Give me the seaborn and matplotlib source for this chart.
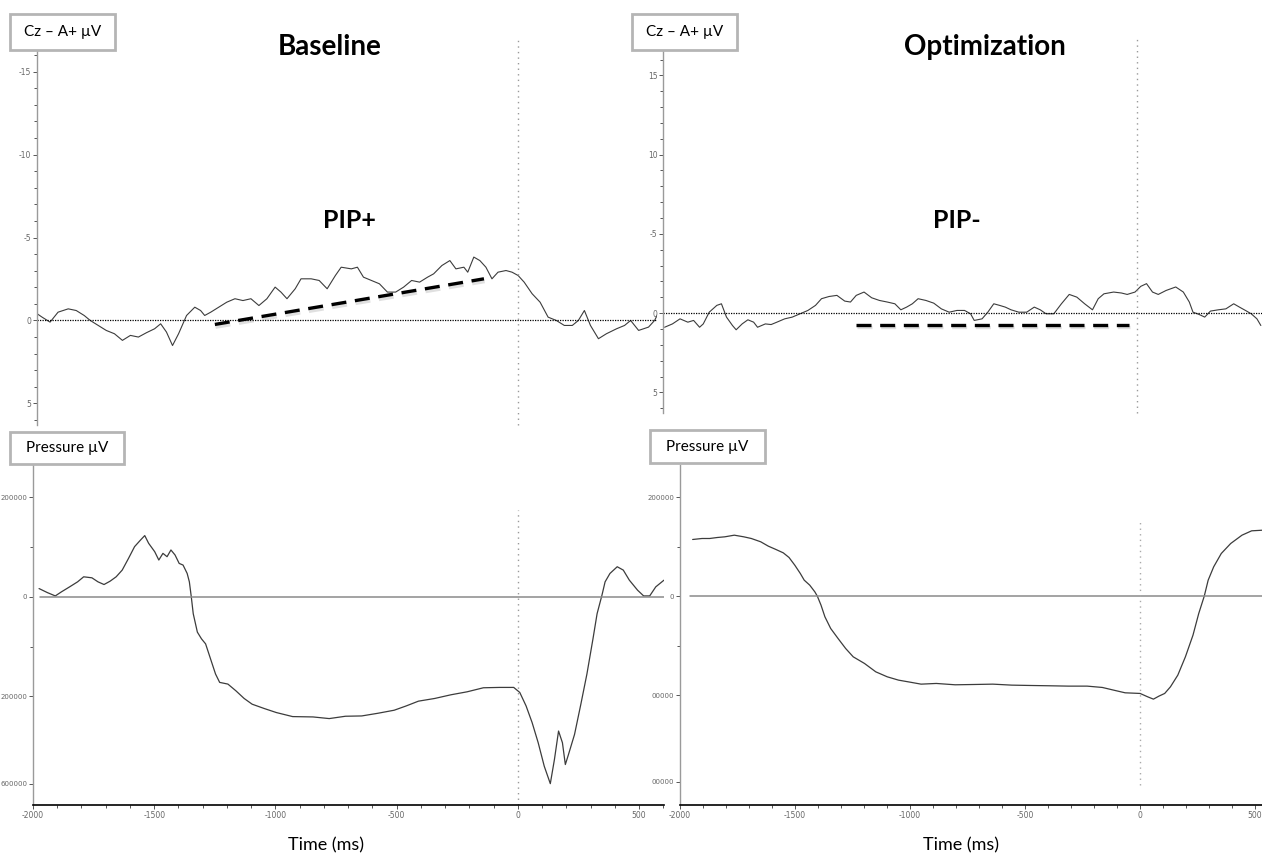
import numpy as np
import pandas as pd
import matplotlib
matplotlib.use("Agg")
import matplotlib.pyplot as plt
import matplotlib.patheffects as pe
from matplotlib.patches import Rectangle
from matplotlib.ticker import MultipleLocator, FixedLocator
import seaborn as sns

# ---------------- data ----------------
# EEG Cz - A+ (uV), baseline (PIP+)
eeg_base_t = [-1987, -1967, -1934, -1901, -1859, -1826, -1793, -1768, -1735, -1702,
              -1668, -1635, -1602, -1569, -1536, -1502, -1477, -1453, -1428, -1403,
              -1370, -1336, -1312, -1295, -1270, -1237, -1204, -1170, -1137, -1104,
              -1071, -1038, -1004, -980, -955, -921, -897, -855, -822, -789,
              -755, -731, -689, -664, -639, -606, -573, -540, -506, -473,
              -440, -407, -374, -349, -315, -282, -257, -224, -208, -183,
              -158, -133, -108, -83, -50, -25, 0, 25, 58, 91,
              124, 158, 191, 224, 249, 274, 299, 332, 365, 407,
              440, 465, 498, 539, 564, 581]
eeg_base_v = [-0.40, -0.20, 0.10, -0.50, -0.70, -0.60, -0.30, 0.00, 0.30, 0.60,
              0.80, 1.20, 0.90, 1.00, 0.74, 0.50, 0.20, 0.70, 1.51, 0.80,
              -0.30, -0.80, -0.60, -0.30, -0.50, -0.80, -1.10, -1.31, -1.20, -1.31,
              -0.90, -1.31, -2.01, -1.71, -1.31, -1.91, -2.51, -2.51, -2.41, -1.91,
              -2.71, -3.21, -3.11, -3.21, -2.61, -2.41, -2.21, -1.71, -1.71, -2.01,
              -2.41, -2.31, -2.61, -2.81, -3.31, -3.61, -3.11, -3.21, -2.91, -3.82,
              -3.61, -3.21, -2.51, -2.91, -3.01, -2.91, -2.71, -2.31, -1.61, -1.10,
              -0.20, 0.00, 0.30, 0.30, 0.00, -0.60, 0.30, 1.10, 0.80, 0.50,
              0.30, 0.00, 0.60, 0.40, 0.00, -0.50]

# EEG Cz - A+ (uV), optimization (PIP-)
eeg_opt_t = [-2054, -2020, -1987, -1953, -1928, -1902, -1886, -1860, -1827, -1807,
             -1785, -1759, -1743, -1717, -1692, -1667, -1650, -1616, -1591, -1566,
             -1532, -1499, -1465, -1431, -1398, -1372, -1339, -1305, -1271, -1246,
             -1221, -1187, -1154, -1120, -1086, -1053, -1027, -1002, -977, -952,
             -918, -884, -851, -817, -783, -750, -724, -708, -674, -649,
             -623, -598, -573, -548, -514, -480, -447, -421, -396, -362,
             -329, -295, -262, -228, -194, -169, -144, -102, -68, -43,
             -9, 16, 41, 67, 92, 126, 168, 201, 227, 243,
             269, 294, 319, 353, 386, 420, 445, 471, 496, 521, 538]
eeg_opt_v = [0.89, 0.68, 0.36, 0.57, 0.46, 0.89, 0.68, -0.06, -0.49, -0.59,
             0.25, 0.78, 1.05, 0.68, 0.42, 0.57, 0.89, 0.68, 0.72, 0.57,
             0.36, 0.25, 0.04, -0.17, -0.49, -0.91, -1.05, -1.12, -0.76, -0.70,
             -1.12, -1.33, -0.97, -0.80, -0.70, -0.59, -0.21, -0.38, -0.59, -0.91,
             -0.80, -0.63, -0.27, -0.06, -0.17, -0.17, 0.04, 0.46, 0.36, -0.06,
             -0.59, -0.49, -0.38, -0.21, -0.06, -0.06, -0.38, -0.21, 0.04, 0.04,
             -0.59, -1.18, -1.01, -0.59, -0.21, -0.91, -1.22, -1.33, -1.27, -1.18,
             -1.33, -1.69, -1.86, -1.33, -1.18, -1.43, -1.65, -1.33, -0.70, -0.06,
             0.08, 0.25, -0.13, -0.21, -0.27, -0.59, -0.38, -0.17, 0.04, 0.36, 0.78]

# trend (dashed) lines
trend_base_t = [-1253, -141]
trend_base_v = [0.24, -2.51]
trend_opt_t = [-1221, -34]
trend_opt_v = [0.72, 0.72]

# Pressure, baseline
pres_base_t = [-1975, -1941, -1908, -1883, -1849, -1816, -1791, -1757, -1732, -1707,
               -1682, -1657, -1632, -1606, -1581, -1556, -1539, -1523, -1498, -1481,
               -1464, -1447, -1431, -1414, -1397, -1381, -1364, -1355, -1347, -1339,
               -1322, -1305, -1288, -1263, -1247, -1230, -1196, -1163, -1129, -1096,
               -1046, -996, -929, -845, -778, -711, -644, -577, -510, -460,
               -410, -343, -276, -209, -142, -75, -17, 8, 34, 59,
               84, 109, 134, 151, 168, 184, 196, 209, 234, 260,
               285, 310, 327, 347, 360, 380, 410, 435, 460, 494,
               519, 544, 569, 603]
pres_base_v = [16800, 8750, 2000, 10100, 20200, 30300, 40400, 38400, 30300, 24900,
               31600, 40400, 53900, 77400, 101000, 114500, 123200, 107700, 90900, 74100,
               87500, 80800, 94300, 84200, 67300, 64000, 47100, 30300, 0, -33700,
               -70700, -84200, -94300, -131300, -154900, -171700, -175100, -188600, -204000, -215500,
               -224200, -232300, -240400, -241100, -244400, -239700, -239100, -233700, -227600, -218900,
               -209400, -204000, -196600, -190600, -182500, -181800, -181800, -191900, -218900, -252500,
               -292900, -340100, -375100, -326600, -269400, -292900, -336700, -316500, -276100, -215500,
               -154900, -84200, -33700, 3400, 30300, 47100, 60600, 53900, 33700, 13500,
               2000, 2000, 20200, 33700]

# Pressure, optimization
pres_opt_t = [-1945, -1904, -1871, -1838, -1805, -1764, -1723, -1690, -1649, -1616,
              -1583, -1551, -1526, -1501, -1477, -1460, -1436, -1414, -1403, -1387,
              -1370, -1345, -1313, -1280, -1247, -1198, -1149, -1099, -1050, -1001,
              -952, -886, -804, -722, -640, -558, -476, -394, -312, -230,
              -164, -115, -65, 0, 33, 58, 82, 107, 132, 164,
              197, 230, 255, 279, 296, 320, 353, 394, 443, 485, 534]
pres_opt_v = [114500, 116500, 116500, 118500, 119900, 123200, 119900, 116500, 109800, 101000,
              94300, 87500, 78100, 62600, 45800, 32300, 22200, 8800, 0, -18200,
              -41800, -65300, -85500, -105700, -122600, -136000, -152900, -163000, -169700, -173700,
              -177800, -176400, -179100, -178500, -177800, -179800, -180500, -181100, -181800, -181800,
              -184500, -189900, -195300, -196600, -203400, -208100, -202000, -196600, -183200, -159600,
              -122600, -78800, -35000, 0, 32300, 59300, 86200, 106400, 123200, 132000, 133300]

eeg_ticks = [-15, -10, -5, 0, 5]
eeg_ticklabels_left = ["-15", "-10", "-5", "0", "5"]
eeg_ticklabels_right = ["15", "10", "-5", "0", "5"]
pres_ticks = [200000, 0, -200000, -375000]
pres_ticklabels_left = ["200000", "0", "200000", "600000"]
pres_ticklabels_right = ["200000", "0", "00000", "00000"]
time_ticks = [-2000, -1500, -1000, -500, 0, 500]
time_ticklabels = ["-2000", "-1500", "-1000", "-500", "0", "500"]

# ---------------- figure ----------------
sns.set_theme(style="white")
plt.rcParams['font.family'] = ['Lato', 'DejaVu Sans']
plt.rcParams['text.color'] = 'black'

W, H = 1262, 857
fig = plt.figure(figsize=(W / 100, H / 100), dpi=100)


def pos(l, r, t, b):
    return [l / W, 1 - b / H, (r - l) / W, (b - t) / H]


ax_tl = fig.add_axes(pos(37, 657, 50, 425))
ax_tr = fig.add_axes(pos(663, 1262, 50, 413))
ax_bl = fig.add_axes(pos(33, 664, 465, 805))
ax_br = fig.add_axes(pos(680, 1262, 465, 805))

curve_color = "#3c3c3c"
spine_gray = "#9a9a9a"

df_eb = pd.DataFrame({"t": eeg_base_t, "v": eeg_base_v})
df_eo = pd.DataFrame({"t": eeg_opt_t, "v": eeg_opt_v})
df_pb = pd.DataFrame({"t": pres_base_t, "v": pres_base_v})
df_po = pd.DataFrame({"t": pres_opt_t, "v": pres_opt_v})

sns.lineplot(data=df_eb, x="t", y="v", ax=ax_tl, color=curve_color, lw=0.8, sort=False)
sns.lineplot(data=df_eo, x="t", y="v", ax=ax_tr, color=curve_color, lw=0.8, sort=False)
sns.lineplot(data=df_pb, x="t", y="v", ax=ax_bl, color=curve_color, lw=0.9, sort=False)
sns.lineplot(data=df_po, x="t", y="v", ax=ax_br, color=curve_color, lw=0.9, sort=False)

shadow = [pe.SimpleLineShadow(offset=(0.5, -2), shadow_color="#999999", alpha=0.3), pe.Normal()]
for ax, tt, vv in [(ax_tl, trend_base_t, trend_base_v), (ax_tr, trend_opt_t, trend_opt_v)]:
    sns.lineplot(x=tt, y=vv, ax=ax, color="black", lw=2.4, dashes=False)
    ln = ax.lines[-1]
    ln.set_dashes((4.5, 2.6))
    ln.set_path_effects(shadow)

# limits
ax_tl.set_xlim(-1988, 574)
ax_tl.set_ylim(6.3, -16.3)
ax_tr.set_xlim(-2061, 543)
ax_tr.set_ylim(6.3, -16.6)
ax_bl.set_xlim(-2000, 603)
ax_bl.set_ylim(-418000, 265000)
ax_br.set_xlim(-2000, 530)
ax_br.set_ylim(-422000, 265000)

# reference lines
for ax in (ax_tl, ax_tr):
    ax.axhline(0, color="black", lw=0.9, ls=(0, (1, 1)))
ax_tl.axvline(0, ymin=0, ymax=1.03, color="#999999", lw=1.0, ls=(0, (1, 3)), clip_on=False)
ax_tr.axvline(0, ymin=0, ymax=1.033, color="#999999", lw=1.0, ls=(0, (1, 3)), clip_on=False)
ax_bl.axhline(0, xmin=0.011, xmax=1, color="#8a8a8a", lw=1.1)
ax_br.axhline(0, xmin=0.017, xmax=1, color="#8a8a8a", lw=1.1)
ax_bl.axvline(0, ymin=0, ymax=0.868, color="#999999", lw=1.0, ls=(0, (1, 3)))
ax_br.axvline(0, ymin=0.059, ymax=0.838, color="#aaaaaa", lw=1.0, ls=(0, (1, 3)))

# axes styling
for ax in (ax_tl, ax_tr, ax_bl, ax_br):
    ax.set_facecolor("none")
    ax.set_xlabel("")
    ax.set_ylabel("")
    for s in ("top", "right"):
        ax.spines[s].set_visible(False)
    ax.spines["left"].set_color(spine_gray)
    ax.spines["left"].set_linewidth(1.0)
    ax.tick_params(axis="both", which="both", direction="out", colors="#555555",
                   labelsize=5.5, length=3, width=0.7, left=True, bottom=True, pad=1)
    ax.tick_params(which="minor", length=2)

for ax, labs in [(ax_tl, eeg_ticklabels_left), (ax_tr, eeg_ticklabels_right)]:
    ax.spines["bottom"].set_visible(False)
    ax.set_yticks(eeg_ticks)
    ax.set_yticklabels(labs, fontfamily="DejaVu Sans", fontsize=5.5, color="#666666")
    ax.yaxis.set_minor_locator(MultipleLocator(1))
    ax.set_xticks([])
    ax.tick_params(axis="x", which="both", bottom=False)

for ax, labs in [(ax_bl, pres_ticklabels_left), (ax_br, pres_ticklabels_right)]:
    ax.spines["bottom"].set_color("black")
    ax.spines["bottom"].set_linewidth(1.2)
    ax.set_yticks(pres_ticks)
    ax.set_yticklabels(labs, fontfamily="DejaVu Sans", fontsize=5, color="#666666")
    ax.yaxis.set_minor_locator(FixedLocator([100000, -100000]))
    ax.set_xticks(time_ticks)
    ax.set_xticklabels(time_ticklabels, fontfamily="DejaVu Sans", fontsize=5.5, color="#666666")
    ax.xaxis.set_minor_locator(MultipleLocator(100))

# label boxes
def box(l, r, t, b, text, size):
    fig.patches.append(Rectangle((l / W, 1 - b / H), (r - l) / W, (b - t) / H,
                                 transform=fig.transFigure, facecolor="white",
                                 edgecolor="#b5b5b5", lw=2.0, zorder=5))
    fig.text((l + r) / 2 / W, 1 - (t + b) / 2 / H, text, ha="center", va="center",
             fontsize=size, color="black", zorder=6)

box(10, 115, 14, 50, "Cz – A+ µV", 11)
box(632, 737, 14, 50, "Cz – A+ µV", 11)
box(10, 124, 432, 464, "Pressure µV", 11)
box(650, 765, 430, 463, "Pressure µV", 11)

fig.text(330 / W, 1 - 47 / H, "Baseline", ha="center", va="center", fontsize=20,
         fontweight="bold", color="black")
fig.text(985 / W, 1 - 47 / H, "Optimization", ha="center", va="center", fontsize=20,
         fontweight="bold", color="black")
fig.text(349 / W, 1 - 220 / H, "PIP+", ha="center", va="center", fontsize=18,
         fontweight="bold", color="black")
fig.text(957 / W, 1 - 220 / H, "PIP-", ha="center", va="center", fontsize=18,
         fontweight="bold", color="black")
fig.text(326 / W, 1 - 845 / H, "Time (ms)", ha="center", va="center", fontsize=13, color="black")
fig.text(961 / W, 1 - 845 / H, "Time (ms)", ha="center", va="center", fontsize=13, color="black")

fig.savefig("out.png", dpi=100)
